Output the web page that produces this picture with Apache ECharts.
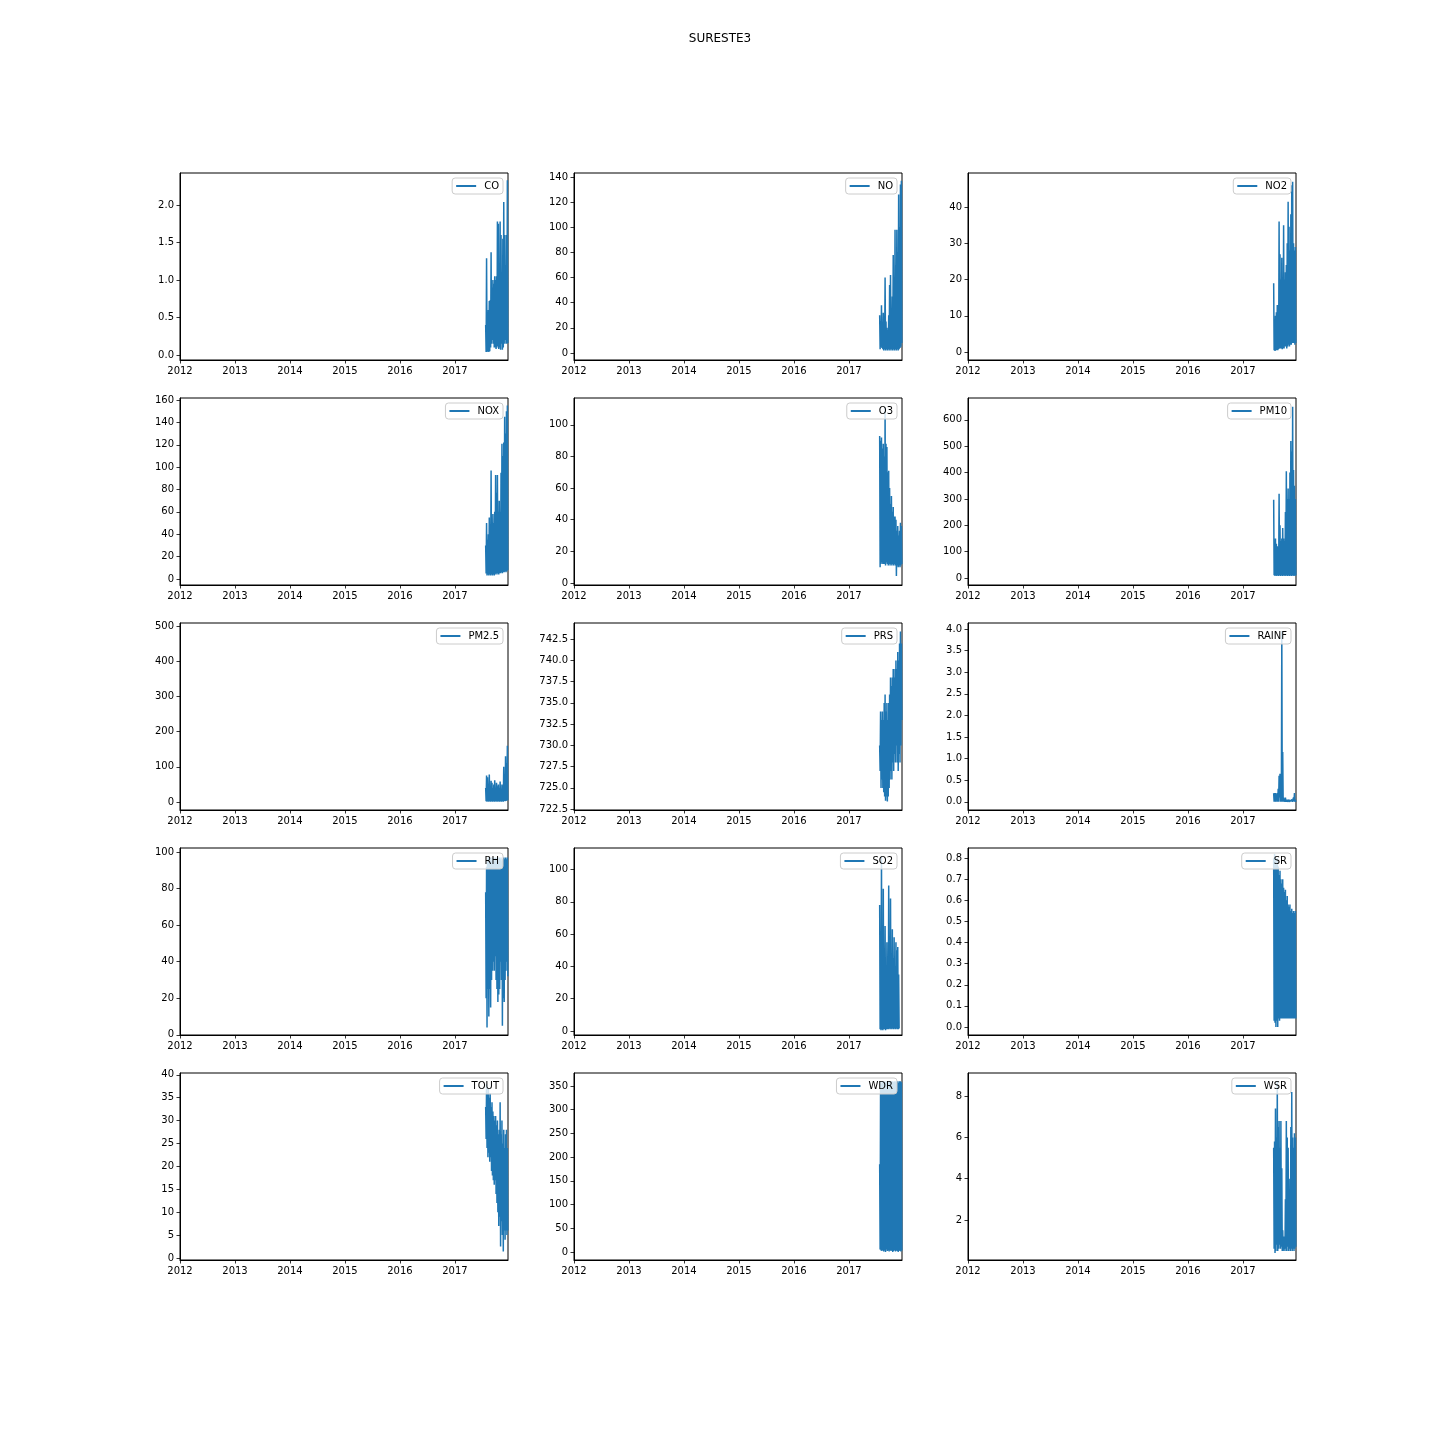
<!DOCTYPE html>
<html>
<head>
<meta charset="utf-8">
<script src="https://cdn.jsdelivr.net/npm/echarts@6/dist/echarts.min.js"></script>
<style>html,body{margin:0;padding:0;background:#fff}#c{width:1440px;height:1440px}</style>
</head>
<body>
<div id="c"></div>
<script>
// Sample dates (2017, MM-DD)
const DATES = ['07-24','07-27','07-30','08-02','08-05','08-08','08-11','08-14','08-17','08-20','08-23','08-26','08-29','09-01','09-04','09-07','09-10','09-13','09-16','09-19','09-22','09-25','09-28','10-01','10-04','10-07','10-10','10-13','10-16','10-19','10-22','10-25','10-28','10-31','11-03','11-06','11-09','11-12','11-15','11-18','11-21','11-24','11-27','11-30','12-03','12-06','12-09','12-12','12-15','12-18'];
const X_TICKS = [2012, 2013, 2014, 2015, 2016, 2017];

const CO = [0.4,0.04,1.29,0.04,0.45,0.05,0.6,0.04,0.72,0.05,0.73,0.1,1.37,0.15,0.9,0.2,1.0,0.15,0.95,0.1,1.05,0.1,1.0,0.08,1.05,0.1,1.78,0.12,1.75,0.08,1.2,0.1,1.78,0.07,1.6,0.15,1.1,0.07,1.55,0.1,2.04,0.15,1.6,0.2,1.2,0.15,1.6,0.15,2.33,0.16];
const NO = [30,3,25,5,38,4,22,3,32,2,20,3,60,2,25,3,20,2,18,3,30,2,54,3,62,2,35,3,45,2,78,3,50,2,98,3,70,2,98,3,80,2,126,3,100,4,134,5,137,8];
const NO2 = [19,0.5,8,0.3,10,0.5,11,0.5,13,0.5,12,0.8,36,1,27,1,20,1,26,0.8,18,1,35,1,20,1.5,22,1.5,24,1,30,1.5,41.5,2,34.6,1.5,28,2,38,2,46,2.5,47,2.5,30,2.5,28,2,29,2.5];
const NOX = [30,5,50,3,35,4,40,3,55,4,45,3,97,4,40,3,58,4,50,3,60,4,93,5,77,4,93,5,60,4,70,5,60,5,95,6,121,5,110,6,122,6,145,7,130,6,150,7,155,8];
const O3 = [93,10,90,12,92,13,85,12,88,12,80,12,111,11,88,13,86,12,70,11,71,12,60,11,50,12,55,11,45,12,48,11,42,12,42,11,40,4.4,33,11,36,10,30,11,33,10,38,11,36,12];
const PM10 = [297,10,100,8,150,10,130,8,120,10,110,8,320,10,200,8,140,10,150,8,190,10,150,8,140,10,250,8,405,10,300,8,340,10,300,8,400,10,520,8,480,10,650,8,410,10,350,8,300,10];
const PM25 = [40,2,75,1,70,2,50,1,78,2,45,1,60,2,55,1,40,2,50,1,62,2,40,1,55,2,45,1,50,2,40,1,58,2,35,1,50,2,45,1,100,3,70,2,130,3,110,4,160,5];
const PRS = [730,727,734,725,733,726,734,725,733,724.5,735,724,736,723.5,734,724,735,723.4,733,724,735,725,736,726,738,727,737,726,738,728,739,727,738,729,739,728,740,730,739,728,741,727,740,729,742,728,743.4,730,742,733];
const RAINF = [0.2,0,0.2,0,0.2,0,0,0,0.2,0,0.3,0,0.6,0.1,0.65,0,0.5,0,3.95,0,1.15,0,0.1,0,0.05,0,0.1,0,0.05,0,0.05,0,0,0,0.05,0,0,0,0,0,0.05,0,0,0,0.1,0,0.2,0,0.05,0];
const RH = [78,20,92,4,95,25,97,10,96,25,97,15,95,30,97,35,96,40,97,35,95,43,97,30,96,25,97,18,95,22,97,25,96,40,97,30,95,5,96,20,97,18,96,30,97,35,96,40,97,32];
const SO2 = [78,1,40,0.5,108,1,60,0.5,88,1,45,1,65,0.5,40,1,55,1,35,1,90,1.5,50,1,82,1.5,40,1,63,1.5,45,1,58,1.5,40,1,55,1.5,50,1,52,1,35,1.5,null,null,null,null,null,null];
const SR = [0.8,0.03,0.82,0.02,0.8,0.0,0.78,0.03,0.8,0.0,0.76,0.04,0.72,0.03,0.74,0.04,0.7,0.04,0.68,0.04,0.7,0.04,0.66,0.04,0.64,0.04,0.65,0.04,0.6,0.04,0.62,0.04,0.58,0.04,0.57,0.04,0.58,0.04,0.55,0.04,0.56,0.04,0.54,0.04,0.55,0.04,0.54,0.04,0.55,0.04];
const TOUT = [33,26,38,24,36,22,37,23,35,21,36,22,33,19,34,18,32,17,31,16,30,17,31,14,29,12,30,10,27,7,28,9,34,2.5,27,8,30,5,25,1.4,28,6,24,4,27,6,28,5,24,6];
const WDR = [185,5,360,3,355,2,360,4,358,1,360,3,360,0,357,5,360,2,359,3,360,1,360,4,356,2,360,3,360,0,358,2,360,4,360,1,359,3,360,2,360,0,357,3,360,2,360,1,358,3];
const WSR = [5.5,0.6,5.8,0.4,7.4,0.5,6,0.8,8.7,0.5,6.5,0.6,6.8,0.8,5.5,0.6,6.8,0.7,4.5,0.5,1.5,0.5,1.2,0.6,1.0,0.5,3.0,0.6,6.8,0.5,6.0,0.7,5.5,0.5,4.0,0.6,3.5,0.5,6.5,0.6,8.2,0.5,6,0.6,5.5,0.5,6.2,0.6,6.0,0.7];

const CO_TICKS = [0,0.5,1,1.5,2];
const NO_TICKS = [0,20,40,60,80,100,120,140];
const NO2_TICKS = [0,10,20,30,40];
const NOX_TICKS = [0,20,40,60,80,100,120,140,160];
const O3_TICKS = [0,20,40,60,80,100];
const PM10_TICKS = [0,100,200,300,400,500,600];
const PM25_TICKS = [0,100,200,300,400,500];
const PRS_TICKS = [722.5,725,727.5,730,732.5,735,737.5,740,742.5];
const RAINF_TICKS = [0,0.5,1,1.5,2,2.5,3,3.5,4];
const RH_TICKS = [0,20,40,60,80,100];
const SO2_TICKS = [0,20,40,60,80,100];
const SR_TICKS = [0,0.1,0.2,0.3,0.4,0.5,0.6,0.7,0.8];
const TOUT_TICKS = [0,5,10,15,20,25,30,35,40];
const WDR_TICKS = [0,50,100,150,200,250,300,350];
const WSR_TICKS = [2,4,6,8];

const PANELS = [
  {name:'CO', data:CO, ticks:CO_TICKS, range:[-0.067,2.427], dec:1},
  {name:'NO', data:NO, ticks:NO_TICKS, range:[-5.6,143.2], dec:0},
  {name:'NO2', data:NO2, ticks:NO2_TICKS, range:[-2.2,49.4], dec:0},
  {name:'NOX', data:NOX, ticks:NOX_TICKS, range:[-5.4,161.8], dec:0},
  {name:'O3', data:O3, ticks:O3_TICKS, range:[-1.3,117], dec:0},
  {name:'PM10', data:PM10, ticks:PM10_TICKS, range:[-26.6,683], dec:0},
  {name:'PM2.5', data:PM25, ticks:PM25_TICKS, range:[-22.7,508.5], dec:0},
  {name:'PRS', data:PRS, ticks:PRS_TICKS, range:[722.4,744.4], dec:1},
  {name:'RAINF', data:RAINF, ticks:RAINF_TICKS, range:[-0.19,4.14], dec:1},
  {name:'RH', data:RH, ticks:RH_TICKS, range:[-0.1,102.2], dec:0},
  {name:'SO2', data:SO2, ticks:SO2_TICKS, range:[-2.5,113.3], dec:0},
  {name:'SR', data:SR, ticks:SR_TICKS, range:[-0.038,0.848], dec:1},
  {name:'TOUT', data:TOUT, ticks:TOUT_TICKS, range:[-0.44,40.4], dec:0},
  {name:'WDR', data:WDR, ticks:WDR_TICKS, range:[-17,377.5], dec:0},
  {name:'WSR', data:WSR, ticks:WSR_TICKS, range:[0.06,9.12], dec:0}
];

function decYear(md){
  const [m,d] = md.split('-').map(Number);
  return 2017 + (Date.UTC(2017,m-1,d) - Date.UTC(2017,0,1)) / (365*86400000);
}
const XS = DATES.map(decYear);

const FONT = 'DejaVu Sans';
const grids=[], xAxes=[], yAxes=[], series=[], legends=[];
PANELS.forEach((p,i)=>{
  const r = Math.floor(i/3), c = i%3;
  const left = 180 + c*394, top = 173 + r*225;
  grids.push({left:left, top:top, width:328, height:187, show:true, borderColor:'#000', borderWidth:1, backgroundColor:'#fff'});
  xAxes.push({type:'value', gridIndex:i, min:2012, max:2017.965,
    axisLine:{show:true, onZero:false, lineStyle:{color:'#000', width:1}},
    axisTick:{show:true, inside:false, length:3.5, lineStyle:{color:'#000', width:0.8}, customValues:X_TICKS},
    axisLabel:{show:true, color:'#000', fontSize:10, fontFamily:FONT, margin:6, customValues:X_TICKS, formatter:v=>String(Math.round(v))},
    splitLine:{show:false}});
  yAxes.push({type:'value', gridIndex:i, min:p.range[0], max:p.range[1],
    axisLine:{show:true, onZero:false, lineStyle:{color:'#000', width:1}},
    axisTick:{show:true, inside:false, length:3.5, lineStyle:{color:'#000', width:0.8}, customValues:p.ticks},
    axisLabel:{show:true, color:'#000', fontSize:10, fontFamily:FONT, margin:6, customValues:p.ticks, formatter:v=>Number(v).toFixed(p.dec)},
    splitLine:{show:false}});
  series.push({name:p.name, type:'line', xAxisIndex:i, yAxisIndex:i, showSymbol:false, symbol:'none',
    data:p.data.map((v,k)=>[XS[k], v]), connectNulls:false,
    lineStyle:{color:'#1f77b4', width:1.5}, itemStyle:{color:'#1f77b4'}, animation:false, silent:true});
  legends.push({data:[p.name], right:1440-(left+328)+5, top:top+5, orient:'vertical',
    icon:'rect', itemWidth:20, itemHeight:2, padding:[3,4,3,4],
    borderColor:'#cccccc', borderWidth:1, borderRadius:3, backgroundColor:'rgba(255,255,255,0.8)',
    textStyle:{color:'#000', fontSize:10, fontFamily:FONT, padding:[0,0,0,3]}, selectedMode:false});
});

const chart = echarts.init(document.getElementById('c'), null, {renderer:'canvas'});
chart.setOption({
  animation:false,
  backgroundColor:'#fff',
  title:{text:'SURESTE3', left:'center', top:28, textStyle:{fontSize:12, fontWeight:'normal', color:'#000', fontFamily:FONT}},
  grid:grids, xAxis:xAxes, yAxis:yAxes, series:series, legend:legends
});
</script>
</body>
</html>
